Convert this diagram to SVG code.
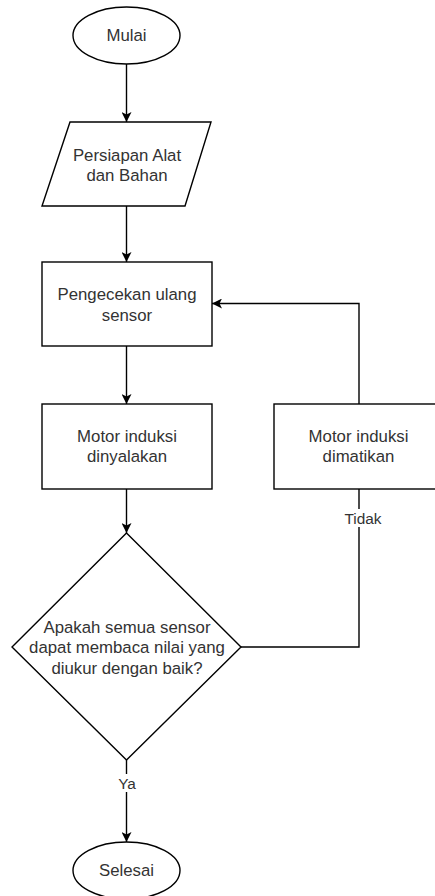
<svg xmlns="http://www.w3.org/2000/svg" width="435" height="896" viewBox="0 0 435 896">
<style>
.shape{fill:#fff;stroke:#000;stroke-width:1.4}
.t{font-family:"Liberation Sans",Arial,sans-serif;font-size:16.8px;fill:#333;text-anchor:middle;dominant-baseline:central}
.lbl{font-family:"Liberation Sans",Arial,sans-serif;font-size:15.4px;fill:#333;text-anchor:middle;dominant-baseline:central}
.edge{fill:none;stroke:#000;stroke-width:1.4}
</style>
<defs>
<marker id="arr" viewBox="0 0 10 10" refX="10" refY="5" markerWidth="10" markerHeight="10" markerUnits="userSpaceOnUse" orient="auto">
<path d="M0,0 L10,5 L0,10 L2.5,5 Z" fill="#000"/>
</marker>
</defs>
<rect width="435" height="896" fill="#fff"/>
<g id="connectors">
<path class="edge" d="M126.5,64 L126.5,122" marker-end="url(#arr)"/>
<path class="edge" d="M126.5,206 L126.5,262" marker-end="url(#arr)"/>
<path class="edge" d="M126.5,346 L126.5,404" marker-end="url(#arr)"/>
<path class="edge" d="M126.5,489 L126.5,533" marker-end="url(#arr)"/>
<path class="edge" d="M126.5,760 L126.5,842" marker-end="url(#arr)"/>
<path class="edge" d="M241,647 L359,647 L359,489"/>
<path class="edge" d="M359,404 L359,303.5 L212,303.5" marker-end="url(#arr)"/>
<rect x="117" y="774" width="20" height="18" fill="#fff"/>
<text class="lbl" x="127" y="783">Ya</text>
<rect x="343" y="509" width="40" height="18" fill="#fff"/>
<text class="lbl" x="363" y="518">Tidak</text>
</g>
<g id="mulai">
<ellipse class="shape" cx="126.5" cy="35.5" rx="53.5" ry="28.5"/>
<text class="t" x="126.5" y="35.5">Mulai</text>
</g>
<g id="persiapan">
<polygon class="shape" points="70,122 211,122 185,206 42,206"/>
<text class="t" x="127" y="155">Persiapan Alat</text>
<text class="t" x="127" y="175.5">dan Bahan</text>
</g>
<g id="pengecekan">
<rect class="shape" x="42" y="262" width="170" height="84"/>
<text class="t" x="127" y="294.5">Pengecekan ulang</text>
<text class="t" x="127" y="315">sensor</text>
</g>
<g id="dinyalakan">
<rect class="shape" x="42" y="404" width="170" height="85"/>
<text class="t" x="127" y="436">Motor induksi</text>
<text class="t" x="127" y="456.5">dinyalakan</text>
</g>
<g id="dimatikan">
<rect class="shape" x="274" y="404" width="170" height="85"/>
<text class="t" x="358.5" y="436">Motor induksi</text>
<text class="t" x="358.5" y="456.5">dimatikan</text>
</g>
<g id="keputusan">
<polygon class="shape" points="126.5,533 241,647 126.5,760 12,647"/>
<text class="t" x="127" y="627">Apakah semua sensor</text>
<text class="t" x="127" y="647.5">dapat membaca nilai yang</text>
<text class="t" x="127" y="668">diukur dengan baik?</text>
</g>
<g id="selesai">
<ellipse class="shape" cx="126.5" cy="870.5" rx="53.5" ry="28.5"/>
<text class="t" x="126.5" y="870">Selesai</text>
</g>
</svg>
